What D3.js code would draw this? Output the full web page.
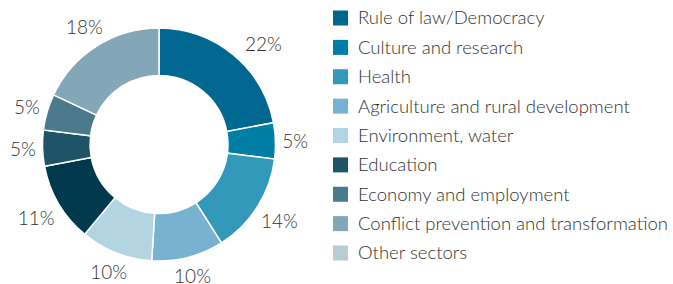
<!DOCTYPE html>
<html>
<head>
<meta charset="utf-8">
<script src="https://d3js.org/d3.v7.min.js"></script>
<style>
  body { margin: 0; background: #fff; }
  text { font-family: Lato, sans-serif; font-weight: 300; fill: #333; }
</style>
</head>
<body>
<script>
// slices, clockwise from 12 o'clock
var sliceValues = [22, 5, 14, 10, 10, 11, 5, 5, 18];
var sliceColors = ["#006890", "#007ea6", "#3399bb", "#77b3d0", "#b3d4e3",
                   "#00384d", "#1f5468", "#4b7a8c", "#84a7b8"];

// legend
var legendLabels = ["Rule of law/Democracy", "Culture and research", "Health",
  "Agriculture and rural development", "Environment, water", "Education",
  "Economy and employment", "Conflict prevention and transformation", "Other sectors"];
var legendColors = ["#006890", "#007ea6", "#3399bb", "#77b3d0", "#b3d4e3",
                    "#1f5468", "#4b7a8c", "#84a7b8", "#b8ccd6"];

var width = 673, height = 284;
var cx = 159, cy = 144.5, rOuter = 116.5, rInner = 69;

var svg = d3.select("body").append("svg")
  .attr("width", width)
  .attr("height", height);

var pie = d3.pie().sort(null).value(function(d) { return d; });
var arcs = pie(sliceValues);

var arc = d3.arc().innerRadius(rInner).outerRadius(rOuter);

var g = svg.append("g").attr("transform", "translate(" + cx + "," + cy + ")");

g.selectAll("path")
  .data(arcs)
  .enter()
  .append("path")
  .attr("d", arc)
  .attr("fill", function(d, i) { return sliceColors[i]; })
  .attr("stroke", "#fff")
  .attr("stroke-width", 1.5);

// labels sit just outside the ring, box edge pushed off by its half size
var labels = g.selectAll("text.pct")
  .data(arcs)
  .enter()
  .append("text")
  .attr("class", "pct")
  .attr("text-anchor", "middle")
  .attr("dominant-baseline", "central")
  .style("font-size", "19px")
  .text(function(d) { return d.value + "%"; });

labels.each(function(d, i) {
  var t = d3.select(this);
  var w = this.getComputedTextLength(), h = 15;
  var a = (d.startAngle + d.endAngle) / 2;
  if (i == 0) a += 0.11; // first label was dragged a bit round in the original
  var s = Math.sin(a), c = Math.cos(a);
  var r = 123 + Math.abs(s) * w / 2 + Math.abs(c) * h / 2;
  if (i == 0) r += 4;
  t.attr("x", r * s).attr("y", -r * c);
});

var y = d3.scalePoint()
  .domain(d3.range(legendLabels.length))
  .range([18, 253]);

var legend = svg.append("g");

var rows = legend.selectAll("g")
  .data(legendLabels)
  .enter()
  .append("g")
  .attr("transform", function(d, i) { return "translate(333," + y(i) + ")"; });

rows.append("rect")
  .attr("x", 0)
  .attr("y", -7.5)
  .attr("width", 15)
  .attr("height", 15)
  .attr("fill", function(d, i) { return legendColors[i]; });

rows.append("text")
  .attr("x", 25)
  .attr("dy", "0.35em")
  .style("font-size", "18.5px")
  .text(function(d) { return d; });
</script>
</body>
</html>
